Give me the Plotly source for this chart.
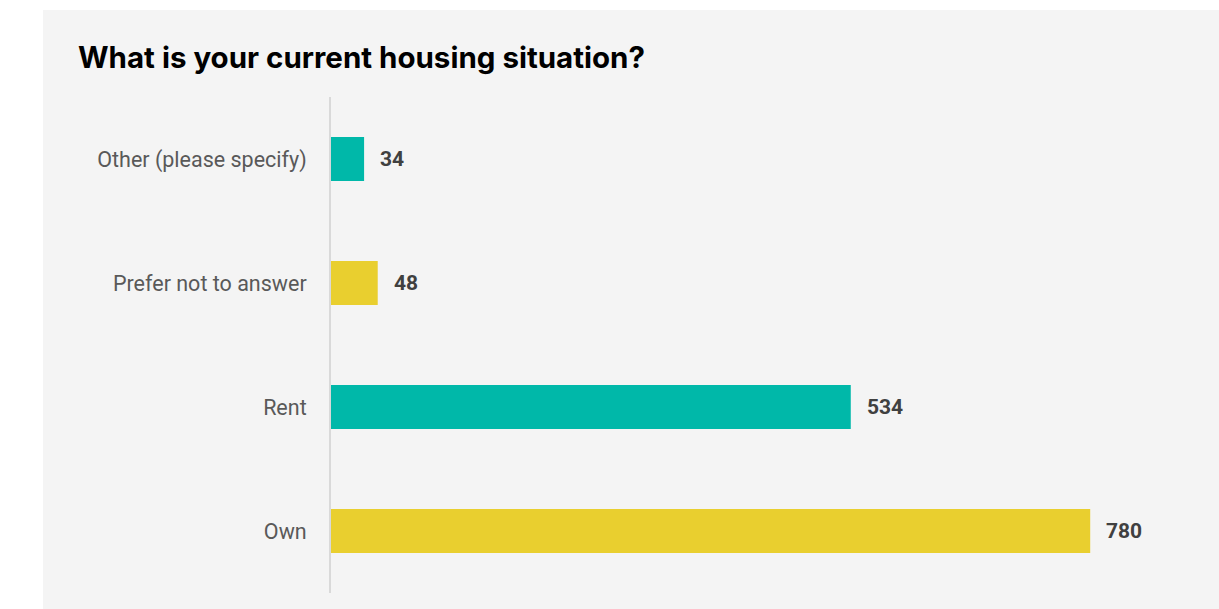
import plotly.graph_objects as go

categories = ["Own", "Rent", "Prefer not to answer", "Other (please specify)"]
values = [780, 534, 48, 34]
colors = ["#E9CF2F", "#00B8A9", "#E9CF2F", "#00B8A9"]
title_text = "What is your current housing situation?"

W, H = 1219, 609
L, R, T, B = 331, 48, 97, 16
pw, ph = W - L - R, H - T - B

fig = go.Figure(go.Bar(
    x=values, y=categories, orientation="h",
    marker=dict(color=colors, line=dict(width=0)),
    hoverinfo="skip",
))

for c, v in zip(categories, values):
    fig.add_annotation(x=v, y=c, xref="x", yref="y", text=f"<b>{v}</b>",
                       showarrow=False, xanchor="left", xshift=14,
                       font=dict(family="Roboto", size=21, color="#404040"))

def px_x(p):
    return (p - L) / pw

def px_y(p):
    return (H - B - p) / ph

fig.add_shape(type="rect", xref="paper", yref="paper",
              x0=px_x(43), x1=px_x(1222), y0=px_y(612), y1=px_y(10),
              fillcolor="#F4F4F4", line=dict(width=0), layer="below")

fig.add_annotation(xref="paper", yref="paper", x=px_x(76), y=px_y(57),
                   xanchor="left", yanchor="middle", showarrow=False,
                   text=f"<b>{title_text}</b>",
                   font=dict(family="Inter", size=29.5, color="#000000"))

fig.update_layout(
    width=W, height=H,
    margin=dict(l=L, r=R, t=T, b=B),
    paper_bgcolor="white", plot_bgcolor="rgba(0,0,0,0)",
    bargap=0.645, showlegend=False,
    xaxis=dict(range=[0, 863], visible=False, fixedrange=True),
    yaxis=dict(showline=True, linecolor="#D9D9D9", linewidth=2,
               showgrid=False, zeroline=False, ticks="",
               ticklabelstandoff=18,
               tickfont=dict(family="Roboto", size=21.5, color="#595959"),
               fixedrange=True),
)

fig.write_html("out.html", config={"displayModeBar": False})
